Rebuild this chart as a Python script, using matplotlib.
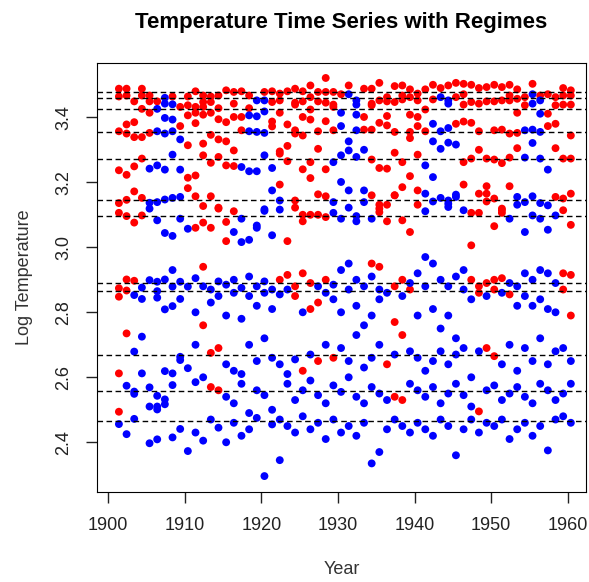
import numpy as np
import matplotlib.pyplot as plt

plt.rcParams['font.family'] = ['Liberation Sans', 'DejaVu Sans']

# monthly mean levels (dashed lines)
month_levels = [3.477, 3.460, 3.4255, 3.356, 3.271, 3.1455, 3.096,
                2.889, 2.866, 2.669, 2.558, 2.4665]

x_ticks = [1900, 1910, 1920, 1930, 1940, 1950, 1960]
y_ticks = [2.4, 2.6, 2.8, 3.0, 3.2, 3.4]

# (year, log temperature) for each regime
red_pts = [
    (1901, 3.488), (1901, 3.464), (1901, 3.357), (1901, 3.237), (1901, 3.136), (1901, 3.106),
    (1901, 2.874), (1901, 2.848), (1901, 2.612), (1901, 2.494),
    (1902, 3.488), (1902, 3.467), (1902, 3.378), (1902, 3.350), (1902, 3.223), (1902, 3.146), (1902, 3.096),
    (1902, 2.901), (1902, 2.867), (1902, 2.735),
    (1903, 3.449), (1903, 3.385), (1903, 3.339), (1903, 3.249), (1903, 3.172), (1903, 3.076), (1903, 2.897),
    (1904, 3.488), (1904, 3.467), (1904, 3.426), (1904, 3.339), (1904, 3.273), (1904, 3.152), (1904, 3.098),
    (1905, 3.467), (1905, 3.449), (1905, 3.414), (1905, 3.352),
    (1906, 3.449),
    (1908, 3.464),
    (1909, 3.432), (1909, 3.373),
    (1910, 3.464), (1910, 3.437), (1910, 3.406), (1910, 3.314), (1910, 3.214), (1910, 3.182),
    (1911, 3.480), (1911, 3.432), (1911, 3.414), (1911, 3.382), (1911, 3.221), (1911, 3.157), (1911, 3.060),
    (1912, 3.467), (1912, 3.447), (1912, 3.432), (1912, 3.408), (1912, 3.319), (1912, 3.283), (1912, 3.127), (1912, 3.076),
    (1912, 2.940), (1912, 2.760),
    (1913, 3.464), (1913, 3.447), (1913, 3.414), (1913, 3.346), (1913, 3.260), (1913, 3.157), (1913, 3.060),
    (1913, 2.675), (1913, 2.570),
    (1914, 3.467), (1914, 3.428), (1914, 3.394), (1914, 3.332), (1914, 3.278), (1914, 3.119), (1914, 3.122),
    (1914, 2.690), (1914, 2.560),
    (1915, 3.483), (1915, 3.385), (1915, 3.326), (1915, 3.252), (1915, 3.078), (1915, 3.019),
    (1916, 3.478), (1916, 3.442), (1916, 3.401), (1916, 3.298), (1916, 3.250), (1916, 3.111),
    (1917, 3.480), (1917, 3.401), (1917, 3.360),
    (1918, 3.467), (1918, 3.428),
    (1920, 3.478),
    (1921, 3.480), (1921, 3.447), (1921, 3.387), (1921, 3.372),
    (1922, 3.473), (1922, 3.452), (1922, 3.414), (1922, 3.295), (1922, 3.288), (1922, 3.193), (1922, 2.900),
    (1923, 3.480), (1923, 3.378), (1923, 3.312), (1923, 3.265), (1923, 3.019), (1923, 2.915),
    (1924, 3.488), (1924, 3.445), (1924, 3.439), (1924, 3.350), (1924, 3.360), (1924, 3.122), (1924, 3.144),
    (1924, 2.880), (1924, 2.850),
    (1925, 3.480), (1925, 3.449), (1925, 3.401), (1925, 3.344), (1925, 3.240), (1925, 3.080), (1925, 3.100),
    (1925, 2.920), (1925, 2.620),
    (1926, 3.498), (1926, 3.462), (1926, 3.424), (1926, 3.393), (1926, 3.262), (1926, 3.213), (1926, 3.100),
    (1926, 2.890), (1926, 2.810),
    (1927, 3.478), (1927, 3.449), (1927, 3.357), (1927, 3.303), (1927, 3.163), (1927, 3.100),
    (1927, 2.830), (1927, 2.650),
    (1928, 3.521), (1928, 3.478), (1928, 3.445), (1928, 3.388), (1928, 3.240), (1928, 3.157), (1928, 3.093),
    (1928, 2.900),
    (1929, 3.478), (1929, 3.439), (1929, 3.432), (1929, 3.360), (1929, 2.660),
    (1930, 3.471),
    (1931, 3.498),
    (1933, 3.488), (1933, 3.401), (1933, 3.362),
    (1934, 3.488), (1934, 3.442), (1934, 3.437), (1934, 3.362), (1934, 3.270), (1934, 3.160), (1934, 2.950),
    (1935, 3.506), (1935, 3.452), (1935, 3.383), (1935, 3.244), (1935, 3.119), (1935, 3.108), (1935, 3.131),
    (1935, 2.940),
    (1936, 3.462), (1936, 3.449), (1936, 3.404), (1936, 3.375), (1936, 3.242), (1936, 3.131), (1936, 3.080),
    (1936, 2.640),
    (1937, 3.496), (1937, 3.447), (1937, 3.355), (1937, 3.291), (1937, 3.160), (1937, 3.160),
    (1937, 2.880), (1937, 2.770), (1937, 2.540),
    (1938, 3.498), (1938, 3.467), (1938, 3.455), (1938, 3.262), (1938, 3.185), (1938, 3.083),
    (1938, 2.900), (1938, 2.730), (1938, 2.530),
    (1939, 3.486), (1939, 3.462), (1939, 3.408), (1939, 3.355), (1939, 3.336), (1939, 3.219), (1939, 3.047),
    (1939, 2.870),
    (1940, 3.473), (1940, 3.452), (1940, 3.401), (1940, 3.373), (1940, 3.285), (1940, 3.175), (1940, 3.131),
    (1941, 3.486), (1941, 3.424), (1941, 3.357),
    (1942, 3.500), (1942, 3.455),
    (1943, 3.490),
    (1944, 3.498),
    (1945, 3.506), (1945, 3.462), (1945, 3.380),
    (1946, 3.503), (1946, 3.471), (1946, 3.439), (1946, 3.387), (1946, 3.262), (1946, 3.193),
    (1947, 3.500), (1947, 3.447), (1947, 3.383), (1947, 3.273), (1947, 3.106), (1947, 3.006), (1947, 2.900),
    (1948, 3.490), (1948, 3.442), (1948, 3.357), (1948, 3.300), (1948, 3.165), (1948, 3.106),
    (1948, 2.880), (1948, 2.860), (1948, 2.495),
    (1949, 3.493), (1949, 3.449), (1949, 3.273), (1949, 3.188), (1949, 3.165), (1949, 3.141),
    (1949, 2.890), (1949, 2.690),
    (1950, 3.500), (1950, 3.449), (1950, 3.360), (1950, 3.270), (1950, 3.150), (1950, 3.065),
    (1950, 2.900), (1950, 2.870), (1950, 2.665),
    (1951, 3.493), (1951, 3.452), (1951, 3.362), (1951, 3.259), (1951, 3.119), (1951, 3.114), (1951, 3.106),
    (1951, 2.905),
    (1952, 3.500), (1952, 3.467), (1952, 3.452), (1952, 3.350), (1952, 3.276), (1952, 3.188), (1952, 2.855),
    (1953, 3.486), (1953, 3.457), (1953, 3.414), (1953, 3.352), (1953, 3.305),
    (1954, 3.462), (1954, 3.437),
    (1955, 3.503),
    (1956, 3.467),
    (1957, 3.471), (1957, 3.411), (1957, 3.373),
    (1958, 3.462), (1958, 3.437), (1958, 3.380), (1958, 3.305), (1958, 3.155),
    (1959, 3.490), (1959, 3.467), (1959, 3.439), (1959, 3.273), (1959, 3.150), (1959, 3.114),
    (1959, 2.920), (1959, 2.870),
    (1960, 3.483), (1960, 3.467), (1960, 3.439), (1960, 3.344), (1960, 3.273), (1960, 3.165), (1960, 3.069),
    (1960, 2.915), (1960, 2.790),
]

blue_pts = [
    (1901, 2.456),
    (1902, 2.425), (1902, 2.574),
    (1903, 2.853), (1903, 2.679), (1903, 2.549), (1903, 2.556), (1903, 2.472),
    (1904, 2.876), (1904, 2.725), (1904, 2.841), (1904, 2.612),
    (1905, 3.242), (1905, 3.137), (1905, 3.119), (1905, 2.899), (1905, 2.510), (1905, 2.397), (1905, 2.569),
    (1906, 3.426), (1906, 3.357), (1906, 3.252), (1906, 3.139), (1906, 3.083),
    (1906, 2.894), (1906, 2.865), (1906, 2.845), (1906, 2.543), (1906, 2.510), (1906, 2.501), (1906, 2.409),
    (1907, 3.460), (1907, 3.442), (1907, 3.398), (1907, 3.350), (1907, 3.239), (1907, 3.147), (1907, 3.044),
    (1907, 2.809), (1907, 2.901), (1907, 2.619), (1907, 2.532), (1907, 2.517),
    (1908, 3.440), (1908, 3.393), (1908, 3.357), (1908, 3.285), (1908, 3.152), (1908, 3.035),
    (1908, 2.819), (1908, 2.930), (1908, 2.612), (1908, 2.576), (1908, 2.879), (1908, 2.415),
    (1909, 3.332), (1909, 3.239), (1909, 3.155), (1909, 3.088),
    (1909, 2.894), (1909, 2.653), (1909, 2.663), (1909, 2.441), (1909, 2.841),
    (1910, 3.057), (1910, 2.879), (1910, 2.628), (1910, 2.373),
    (1911, 2.905), (1911, 2.800), (1911, 2.700), (1911, 2.585), (1911, 2.430),
    (1912, 2.880), (1912, 2.600), (1912, 2.405),
    (1913, 2.870), (1913, 2.830), (1913, 2.470),
    (1914, 2.895), (1914, 2.850), (1914, 2.445),
    (1915, 2.885), (1915, 2.790), (1915, 2.640), (1915, 2.540), (1915, 2.400),
    (1916, 3.047), (1916, 2.900), (1916, 2.860), (1916, 2.620), (1916, 2.520), (1916, 2.460),
    (1917, 3.247), (1917, 3.088), (1917, 3.016),
    (1917, 2.875), (1917, 2.780), (1917, 2.610), (1917, 2.580), (1917, 2.420),
    (1918, 3.406), (1918, 3.357), (1918, 3.234), (1918, 3.023),
    (1918, 2.910), (1918, 2.850), (1918, 2.700), (1918, 2.490), (1918, 2.440),
    (1919, 3.452), (1919, 3.403), (1919, 3.355), (1919, 3.234), (1919, 3.067), (1919, 3.060),
    (1919, 2.880), (1919, 2.820), (1919, 2.650), (1919, 2.560), (1919, 2.475),
    (1920, 3.452), (1920, 3.418), (1920, 3.352), (1920, 3.283), (1920, 3.117), (1920, 3.112),
    (1920, 2.895), (1920, 2.860), (1920, 2.720), (1920, 2.545), (1920, 2.296),
    (1921, 3.244), (1921, 3.175), (1921, 3.037),
    (1921, 2.870), (1921, 2.810), (1921, 2.660), (1921, 2.500), (1921, 2.455),
    (1922, 3.144), (1922, 3.116), (1922, 2.855), (1922, 2.640), (1922, 2.470), (1922, 2.345),
    (1923, 2.870), (1923, 2.610), (1923, 2.580), (1923, 2.450),
    (1924, 2.655), (1924, 2.530), (1924, 2.430),
    (1925, 2.800), (1925, 2.560), (1925, 2.480),
    (1926, 2.670), (1926, 2.590), (1926, 2.440),
    (1927, 2.880), (1927, 2.545), (1927, 2.460),
    (1928, 2.860), (1928, 2.700), (1928, 2.520), (1928, 2.410),
    (1929, 3.262), (1929, 3.139), (1929, 3.106), (1929, 2.885), (1929, 2.840), (1929, 2.575), (1929, 2.470),
    (1930, 3.414), (1930, 3.373), (1930, 3.283), (1930, 3.201), (1930, 3.088),
    (1930, 2.930), (1930, 2.800), (1930, 2.690), (1930, 2.555), (1930, 2.430),
    (1931, 3.471), (1931, 3.326), (1931, 3.298), (1931, 3.175), (1931, 3.122),
    (1931, 2.950), (1931, 2.870), (1931, 2.650), (1931, 2.600), (1931, 2.450),
    (1932, 3.452), (1932, 3.439), (1932, 3.408), (1932, 3.360), (1932, 3.278), (1932, 3.080), (1932, 3.096),
    (1932, 2.900), (1932, 2.820), (1932, 2.730), (1932, 2.540), (1932, 2.420),
    (1933, 3.300), (1933, 3.175), (1933, 3.139),
    (1933, 2.880), (1933, 2.760), (1933, 2.630), (1933, 2.520), (1933, 2.460),
    (1934, 3.088), (1934, 2.910), (1934, 2.790), (1934, 2.660), (1934, 2.570), (1934, 2.335),
    (1935, 2.870), (1935, 2.840), (1935, 2.700), (1935, 2.550), (1935, 2.370),
    (1936, 2.860), (1936, 2.530), (1936, 2.440),
    (1937, 2.670), (1937, 2.470),
    (1938, 2.850), (1938, 2.450),
    (1939, 2.890), (1939, 2.680), (1939, 2.580), (1939, 2.430),
    (1940, 2.920), (1940, 2.790), (1940, 2.660), (1940, 2.560), (1940, 2.460),
    (1941, 3.252), (1941, 3.165), (1941, 3.111),
    (1941, 2.970), (1941, 2.880), (1941, 2.620), (1941, 2.540), (1941, 2.440),
    (1942, 3.380), (1942, 3.326), (1942, 3.216), (1942, 3.141),
    (1942, 2.950), (1942, 2.810), (1942, 2.650), (1942, 2.570), (1942, 2.420),
    (1943, 3.462), (1943, 3.357), (1943, 3.303), (1943, 3.152),
    (1943, 2.900), (1943, 2.750), (1943, 2.680), (1943, 2.520), (1943, 2.470),
    (1944, 3.452), (1944, 3.442), (1944, 3.367), (1944, 3.322), (1944, 3.134), (1944, 3.124), (1944, 3.144),
    (1944, 2.880), (1944, 2.790), (1944, 2.640), (1944, 2.550), (1944, 2.450),
    (1945, 3.316), (1945, 3.155), (1945, 3.162),
    (1945, 2.910), (1945, 2.720), (1945, 2.670), (1945, 2.580), (1945, 2.360),
    (1946, 3.114), (1946, 2.930), (1946, 2.870), (1946, 2.690), (1946, 2.545), (1946, 2.440),
    (1947, 2.840), (1947, 2.600), (1947, 2.510), (1947, 2.470),
    (1948, 2.680), (1948, 2.430),
    (1949, 2.850), (1949, 2.560), (1949, 2.460),
    (1950, 2.575), (1950, 2.450),
    (1951, 2.860), (1951, 2.640), (1951, 2.530), (1951, 2.470),
    (1952, 3.088), (1952, 2.890), (1952, 2.700), (1952, 2.550), (1952, 2.410),
    (1953, 3.155), (1953, 3.131), (1953, 2.880), (1953, 2.820), (1953, 2.620), (1953, 2.570), (1953, 2.440),
    (1954, 3.360), (1954, 3.276), (1954, 3.139), (1954, 3.047),
    (1954, 2.920), (1954, 2.850), (1954, 2.690), (1954, 2.540), (1954, 2.460),
    (1955, 3.471), (1955, 3.442), (1955, 3.362), (1955, 3.321), (1955, 3.157), (1955, 3.098),
    (1955, 2.900), (1955, 2.820), (1955, 2.650), (1955, 2.520), (1955, 2.420),
    (1956, 3.452), (1956, 3.411), (1956, 3.355), (1956, 3.273), (1956, 3.136), (1956, 3.088),
    (1956, 2.930), (1956, 2.840), (1956, 2.720), (1956, 2.580), (1956, 2.450),
    (1957, 3.239), (1957, 3.129), (1957, 3.054),
    (1957, 2.920), (1957, 2.810), (1957, 2.640), (1957, 2.560), (1957, 2.375),
    (1958, 3.098), (1958, 2.890), (1958, 2.800), (1958, 2.680), (1958, 2.530), (1958, 2.470),
    (1959, 2.690), (1959, 2.550), (1959, 2.480),
    (1960, 2.650), (1960, 2.580), (1960, 2.460),
]

shift = 0.4  # points sit a little right of the year mark

fig = plt.figure(figsize=(5.89, 5.82), dpi=100)
ax = fig.add_axes([97 / 589, 90 / 582, 489 / 589, 429.3 / 582])

ry, rv = zip(*red_pts)
by, bv = zip(*blue_pts)
ax.scatter(np.array(ry) + shift, rv, s=32, color='#ff0000', edgecolors='none', zorder=2)
ax.scatter(np.array(by) + shift, bv, s=32, color='#0000ff', edgecolors='none', zorder=2)

for lv in month_levels:
    ax.axhline(lv, color='black', lw=1.0, ls=(0, (4, 2.5)), zorder=3)

ax.set_xlim(1898.54, 1962.38)
ax.set_ylim(2.247, 3.568)
ax.set_xticks(x_ticks)
ax.set_yticks(y_ticks)
ax.set_yticklabels([f'{v:.1f}' for v in y_ticks], rotation=90, va='center')
ax.tick_params(direction='out', length=8, width=1, labelsize=13, colors='#222222')
ax.tick_params(axis='x', pad=10)
ax.tick_params(axis='y', pad=10)

ax.set_title('Temperature Time Series with Regimes', fontsize=16, fontweight='bold', pad=25)
ax.set_xlabel('Year', fontsize=13, color='#333333')
ax.set_ylabel('Log Temperature', fontsize=13, color='#333333')
ax.xaxis.set_label_coords(0.5, -0.18)
ax.xaxis.label.set_va('center')
ax.yaxis.set_label_coords(-0.148, 0.5)
ax.yaxis.label.set_va('center')

fig.savefig('out.png', dpi=100)
